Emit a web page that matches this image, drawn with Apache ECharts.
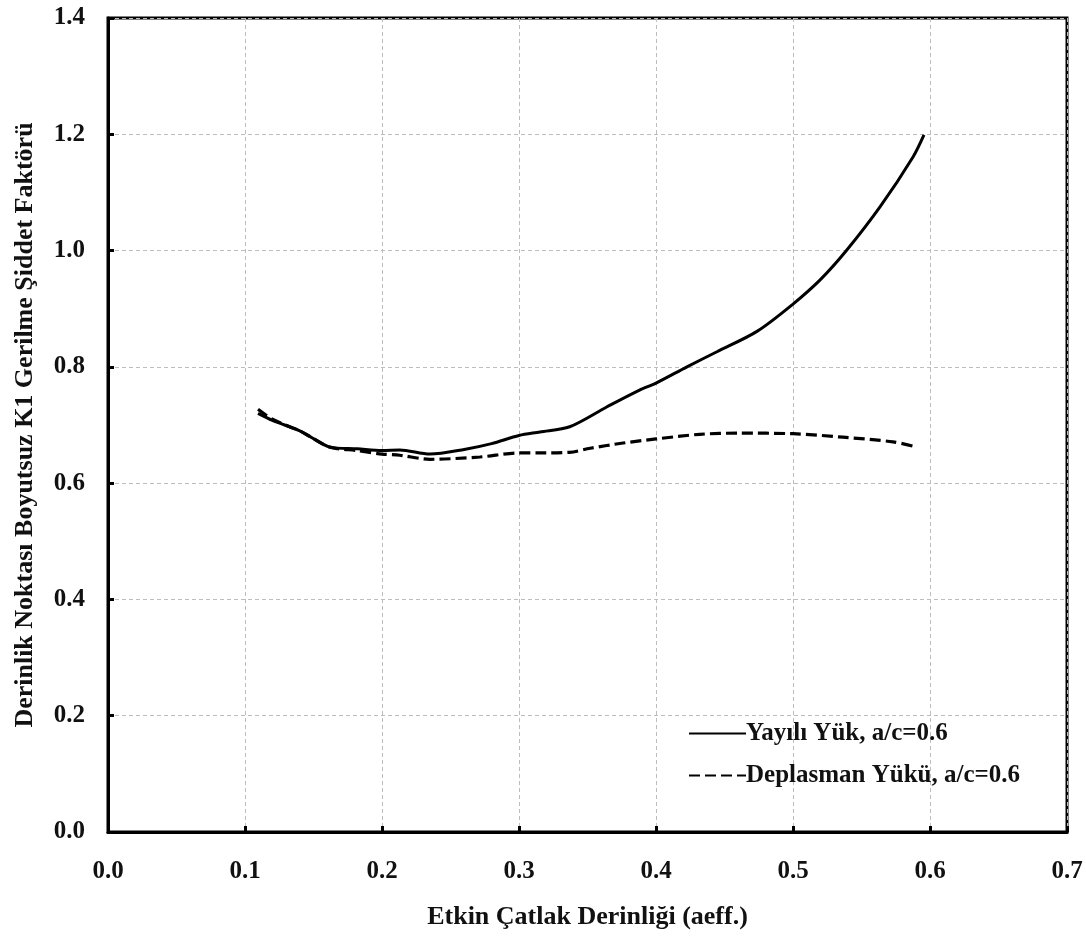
<!DOCTYPE html>
<html>
<head>
<meta charset="utf-8">
<script src="https://cdn.jsdelivr.net/npm/echarts@6/dist/echarts.min.js"></script>
<style>
  html, body { margin: 0; padding: 0; background: #fff; }
  #chart { width: 1086px; height: 940px; }
</style>
</head>
<body>
<div id="chart"></div>
<script>
// Effective crack depth (x) and dimensionless K1 factor at the deepest point (y)
const yayiliX = [0.1095, 0.12, 0.14, 0.1475, 0.162, 0.182, 0.2, 0.213, 0.235, 0.26, 0.28, 0.3, 0.3153, 0.337, 0.364, 0.388, 0.4, 0.4226, 0.4445, 0.4737, 0.5, 0.52, 0.539, 0.5635, 0.5876, 0.5956];
const yayiliY = [0.720, 0.708, 0.690, 0.680, 0.662, 0.659, 0.656, 0.657, 0.650, 0.658, 0.668, 0.682, 0.688, 0.697, 0.731, 0.760, 0.772, 0.800, 0.826, 0.861, 0.908, 0.950, 1.000, 1.075, 1.161, 1.199];

const deplasmanX = [0.1095, 0.12, 0.14, 0.1475, 0.162, 0.182, 0.2, 0.213, 0.235, 0.2715, 0.3, 0.3153, 0.337, 0.352, 0.376, 0.4, 0.432, 0.461, 0.5, 0.5365, 0.573, 0.5905];
const deplasmanY = [0.727, 0.710, 0.690, 0.680, 0.662, 0.656, 0.650, 0.648, 0.641, 0.645, 0.652, 0.652, 0.653, 0.660, 0.669, 0.676, 0.684, 0.686, 0.685, 0.679, 0.671, 0.662];

const seriesNames = ['Yayılı Yük, a/c=0.6', 'Deplasman Yükü, a/c=0.6'];
const xTitle = 'Etkin Çatlak Derinliği (aeff.)';
const yTitle = 'Derinlik Noktası Boyutsuz K1 Gerilme Şiddet Faktörü';

const pairs = (xs, ys) => xs.map((x, i) => [x, ys[i]]);

const font = 'Liberation Serif';
const ink = '#111';
const gridLine = { show: true, lineStyle: { color: '#bdbdbd', width: 1, type: [4, 3] } };
const tickLabel = (margin) => ({
  margin, fontFamily: font, fontWeight: 'bold', fontSize: 25, color: ink,
  formatter: v => v.toFixed(1)
});
const titleStyle = { fontFamily: font, fontWeight: 'bold', fontSize: 26, color: ink };

const chart = echarts.init(document.getElementById('chart'), null, { renderer: 'canvas' });
chart.setOption({
  animation: false,
  backgroundColor: '#fff',
  grid: {
    left: 108, top: 18, right: 19, bottom: 108,
    show: true, borderColor: '#000', borderWidth: 3, backgroundColor: 'transparent'
  },
  xAxis: {
    type: 'value', min: 0, max: 0.7, interval: 0.1,
    name: xTitle, nameLocation: 'middle', nameGap: 72, nameTextStyle: titleStyle,
    axisLine: { show: true, lineStyle: { color: '#000', width: 3 } },
    axisTick: { show: true, inside: true, length: 6, lineStyle: { color: '#000', width: 3 } },
    axisLabel: tickLabel(27),
    splitLine: gridLine
  },
  yAxis: {
    type: 'value', min: 0, max: 1.4, interval: 0.2,
    name: yTitle, nameLocation: 'middle', nameGap: 70, nameRotate: 90, nameTextStyle: titleStyle,
    axisLine: { show: true, lineStyle: { color: '#000', width: 3 } },
    axisTick: { show: true, inside: true, length: 6, lineStyle: { color: '#000', width: 3 } },
    axisLabel: tickLabel(23),
    splitLine: gridLine
  },
  legend: {
    orient: 'vertical', left: 683, top: 716, itemGap: 17,
    itemWidth: 57, itemHeight: 26,
    itemStyle: { opacity: 0 },
    textStyle: { fontFamily: font, fontWeight: 'bold', fontSize: 25, color: ink, padding: [0, 0, 0, -5] },
    data: seriesNames
  },
  series: [
    {
      name: seriesNames[0], type: 'line', data: pairs(yayiliX, yayiliY),
      smooth: 0.3, showSymbol: false, symbol: 'none',
      lineStyle: { color: '#000', width: 3, type: 'solid' },
      itemStyle: { color: '#000' }
    },
    {
      name: seriesNames[1], type: 'line', data: pairs(deplasmanX, deplasmanY),
      smooth: 0.3, showSymbol: false, symbol: 'none',
      lineStyle: { color: '#000', width: 3.2, type: [11, 5] },
      itemStyle: { color: '#000' }
    }
  ]
});
</script>
</body>
</html>
